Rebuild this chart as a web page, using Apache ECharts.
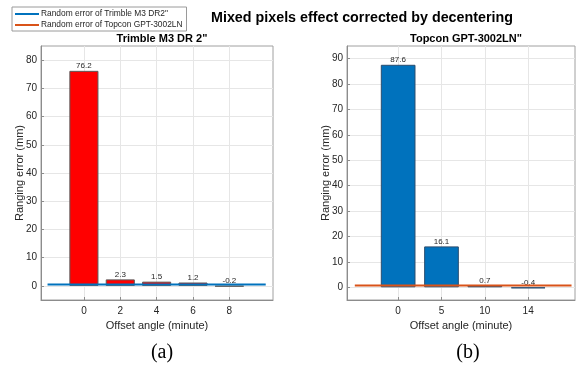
<!DOCTYPE html>
<html>
<head>
<meta charset="utf-8">
<script src="https://cdn.jsdelivr.net/npm/echarts@6/dist/echarts.min.js"></script>
<style>
  html, body { margin: 0; padding: 0; background: #fff; }
  #chart { width: 580px; height: 365px; }
</style>
</head>
<body>
<div id="chart"></div>
<script>
// Trimble M3 DR 2" (left panel)
const trimbleAngles = ['0', '2', '4', '6', '8'];
const trimbleErrors = [76.2, 2.3, 1.5, 1.2, -0.2];
const trimbleRandomX = [-1, 5];
const trimbleRandom = [0.5, 0.5];
const trimbleYTicks = [0, 10, 20, 30, 40, 50, 60, 70, 80];

// Topcon GPT-3002LN" (right panel)
const topconAngles = ['0', '5', '10', '14'];
const topconErrors = [87.6, 16.1, 0.7, -0.4];
const topconRandomX = [-1, 4];
const topconRandom = [0.7, 0.7];
const topconYTicks = [0, 10, 20, 30, 40, 50, 60, 70, 80, 90];

const font = 'Liberation Sans';
const txt = '#262626';

const chart = echarts.init(document.getElementById('chart'));

function xAxisFor(idx, cats, max) {
    return {
        type: 'value', gridIndex: idx, min: -1.18, max: max,
        name: 'Offset angle (minute)', nameLocation: 'middle', nameGap: 20,
        nameTextStyle: { fontFamily: font, fontSize: 11, color: txt },
        axisLine: { show: true, onZero: false, lineStyle: { color: '#8c8c8c' } },
        axisTick: { show: true, inside: true, length: 3, customValues: cats.map((c, i) => i), lineStyle: { color: '#8c8c8c' } },
        axisLabel: { customValues: cats.map((c, i) => i), formatter: v => cats[Math.round(v)], fontFamily: font, fontSize: 10, color: txt, margin: 6 },
        splitLine: { show: true, lineStyle: { color: '#e6e6e6' } }
    };
}

function yAxisFor(idx, ticks, max) {
    return {
        type: 'value', gridIndex: idx, min: -5, max: max,
        name: 'Ranging error (mm)', nameLocation: 'middle', nameGap: 16,
        nameMoveOverlap: false,
        nameTextStyle: { fontFamily: font, fontSize: 11, color: txt },
        axisLine: { show: true, onZero: false, lineStyle: { color: '#8c8c8c' } },
        axisTick: { show: true, inside: true, length: 3, customValues: ticks, lineStyle: { color: '#8c8c8c' } },
        axisLabel: { customValues: ticks, fontFamily: font, fontSize: 10, color: txt, margin: 4 },
        splitLine: { show: true, lineStyle: { color: '#e6e6e6' } }
    };
}

const barLabel = {
    show: true, position: 'top', distance: 1,
    fontFamily: font, fontSize: 8, color: txt
};

chart.setOption({
    animation: false,
    backgroundColor: '#fff',
    title: [
        { text: 'Mixed pixels effect corrected by decentering', left: 357, top: 6, textAlign: 'center',
          textStyle: { fontFamily: font, fontSize: 14.3, fontWeight: 'bold', color: '#000' } },
        { text: 'Trimble M3 DR 2"', left: 157, top: 28, textAlign: 'center',
          textStyle: { fontFamily: font, fontSize: 11, fontWeight: 'bold', color: '#000' } },
        { text: 'Topcon GPT-3002LN"', left: 461, top: 28, textAlign: 'center',
          textStyle: { fontFamily: font, fontSize: 11, fontWeight: 'bold', color: '#000' } },
        { text: '(a)', left: 157, top: 338, textAlign: 'center',
          textStyle: { fontFamily: 'Liberation Serif', fontSize: 20, fontWeight: 'normal', color: '#000' } },
        { text: '(b)', left: 463, top: 338, textAlign: 'center',
          textStyle: { fontFamily: 'Liberation Serif', fontSize: 20, fontWeight: 'normal', color: '#000' } }
    ],
    legend: {
        left: 12, top: 7, orient: 'vertical',
        data: ['Random error of Trimble M3 DR2"', 'Random error of Topcon GPT-3002LN'],
        icon: 'rect', itemWidth: 24, itemHeight: 2, itemGap: 3,
        padding: [3, 4, 2, 3],
        borderColor: '#9a9a9a', borderWidth: 1,
        textStyle: { fontFamily: font, fontSize: 8.4, color: txt, padding: [0, 0, 0, -3] }
    },
    grid: [
        { left: 41, top: 46, width: 232, height: 254, show: true, borderColor: '#a0a0a0', borderWidth: 1, backgroundColor: '#fff' },
        { left: 347, top: 46, width: 228, height: 254, show: true, borderColor: '#a0a0a0', borderWidth: 1, backgroundColor: '#fff' }
    ],
    xAxis: [
        xAxisFor(0, trimbleAngles, 5.2),
        xAxisFor(1, topconAngles, 4.08)
    ],
    yAxis: [
        yAxisFor(0, trimbleYTicks, 85),
        yAxisFor(1, topconYTicks, 95)
    ],
    series: [
        {
            name: 'Trimble M3 DR 2"', type: 'bar', xAxisIndex: 0, yAxisIndex: 0,
            data: trimbleErrors.map((v, i) => [i, v]),
            barWidth: '80%',
            itemStyle: { color: '#ff0000', borderColor: '#5a5a5a', borderWidth: 1 },
            label: barLabel
        },
        {
            name: 'Topcon GPT-3002LN"', type: 'bar', xAxisIndex: 1, yAxisIndex: 1,
            data: topconErrors.map((v, i) => [i, v]),
            barWidth: '80%',
            itemStyle: { color: '#0072bd', borderColor: '#2a4d6e', borderWidth: 1 },
            label: barLabel
        },
        {
            name: 'Random error of Trimble M3 DR2"', type: 'line', xAxisIndex: 0, yAxisIndex: 0,
            data: trimbleRandomX.map((x, i) => [x, trimbleRandom[i]]),
            symbol: 'none', z: 5,
            lineStyle: { color: '#0072bd', width: 2 },
            itemStyle: { color: '#0072bd' }
        },
        {
            name: 'Random error of Topcon GPT-3002LN', type: 'line', xAxisIndex: 1, yAxisIndex: 1,
            data: topconRandomX.map((x, i) => [x, topconRandom[i]]),
            symbol: 'none', z: 5,
            lineStyle: { color: '#d95319', width: 2 },
            itemStyle: { color: '#d95319' }
        }
    ]
});
</script>
</body>
</html>
